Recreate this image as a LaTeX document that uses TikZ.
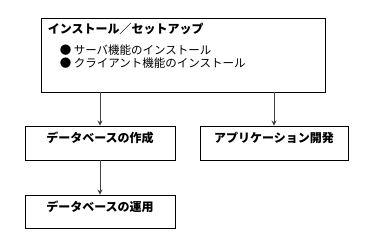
\documentclass[tikz,border=0pt]{standalone}
\usepackage{fontspec}
\setmainfont{Noto Sans CJK JP}
\usetikzlibrary{arrows.meta,positioning}
\tikzset{
  stepbox/.style={draw,line width=0.9pt,minimum width=150pt,minimum height=34pt,inner sep=0pt},
  boxtitle/.style={font=\fontsize{12}{14}\selectfont\bfseries,inner sep=0pt},
  flow/.style={-{Stealth[length=5pt,width=5pt]},line width=0.9pt,black!75}
}
\begin{document}
\begin{tikzpicture}[x=1pt,y=-1pt]
\useasboundingbox (0,0) rectangle (391,244);
% boxes
\node[stepbox,minimum width=284pt,minimum height=74pt] (setup) at (183,55) {};
\node[stepbox] (create) at (100,143) {};
\node[stepbox,minimum width=148pt] (app) at (274,143) {};
\node[stepbox,minimum height=33pt] (use) at (100,211.5) {};
% texts
\node[boxtitle,below right=5pt and 7pt of setup.north west,anchor=north west] (setuptitle) {インストール／セットアップ};
\node[font=\fontsize{11.5}{13}\selectfont,align=left,inner sep=0pt,below right=10pt and 0pt of setuptitle.south west,anchor=north west,xshift=12pt] (setuplist)
  {● サーバ機能のインストール\\● クライアント機能のインストール};
\node[boxtitle,below=6pt of create.north,anchor=north] (createtitle) {データベースの作成};
\node[boxtitle,below=6pt of app.north,anchor=north] (apptitle) {アプリケーション開発};
\node[boxtitle,below=6pt of use.north,anchor=north] (usetitle) {データベースの運用};
% arrows
\draw[flow] (setup.south -| create.north) -- (create.north);
\draw[flow] (setup.south -| app.north) -- (app.north);
\draw[flow] (create) -- (use);
\end{tikzpicture}
\end{document}
